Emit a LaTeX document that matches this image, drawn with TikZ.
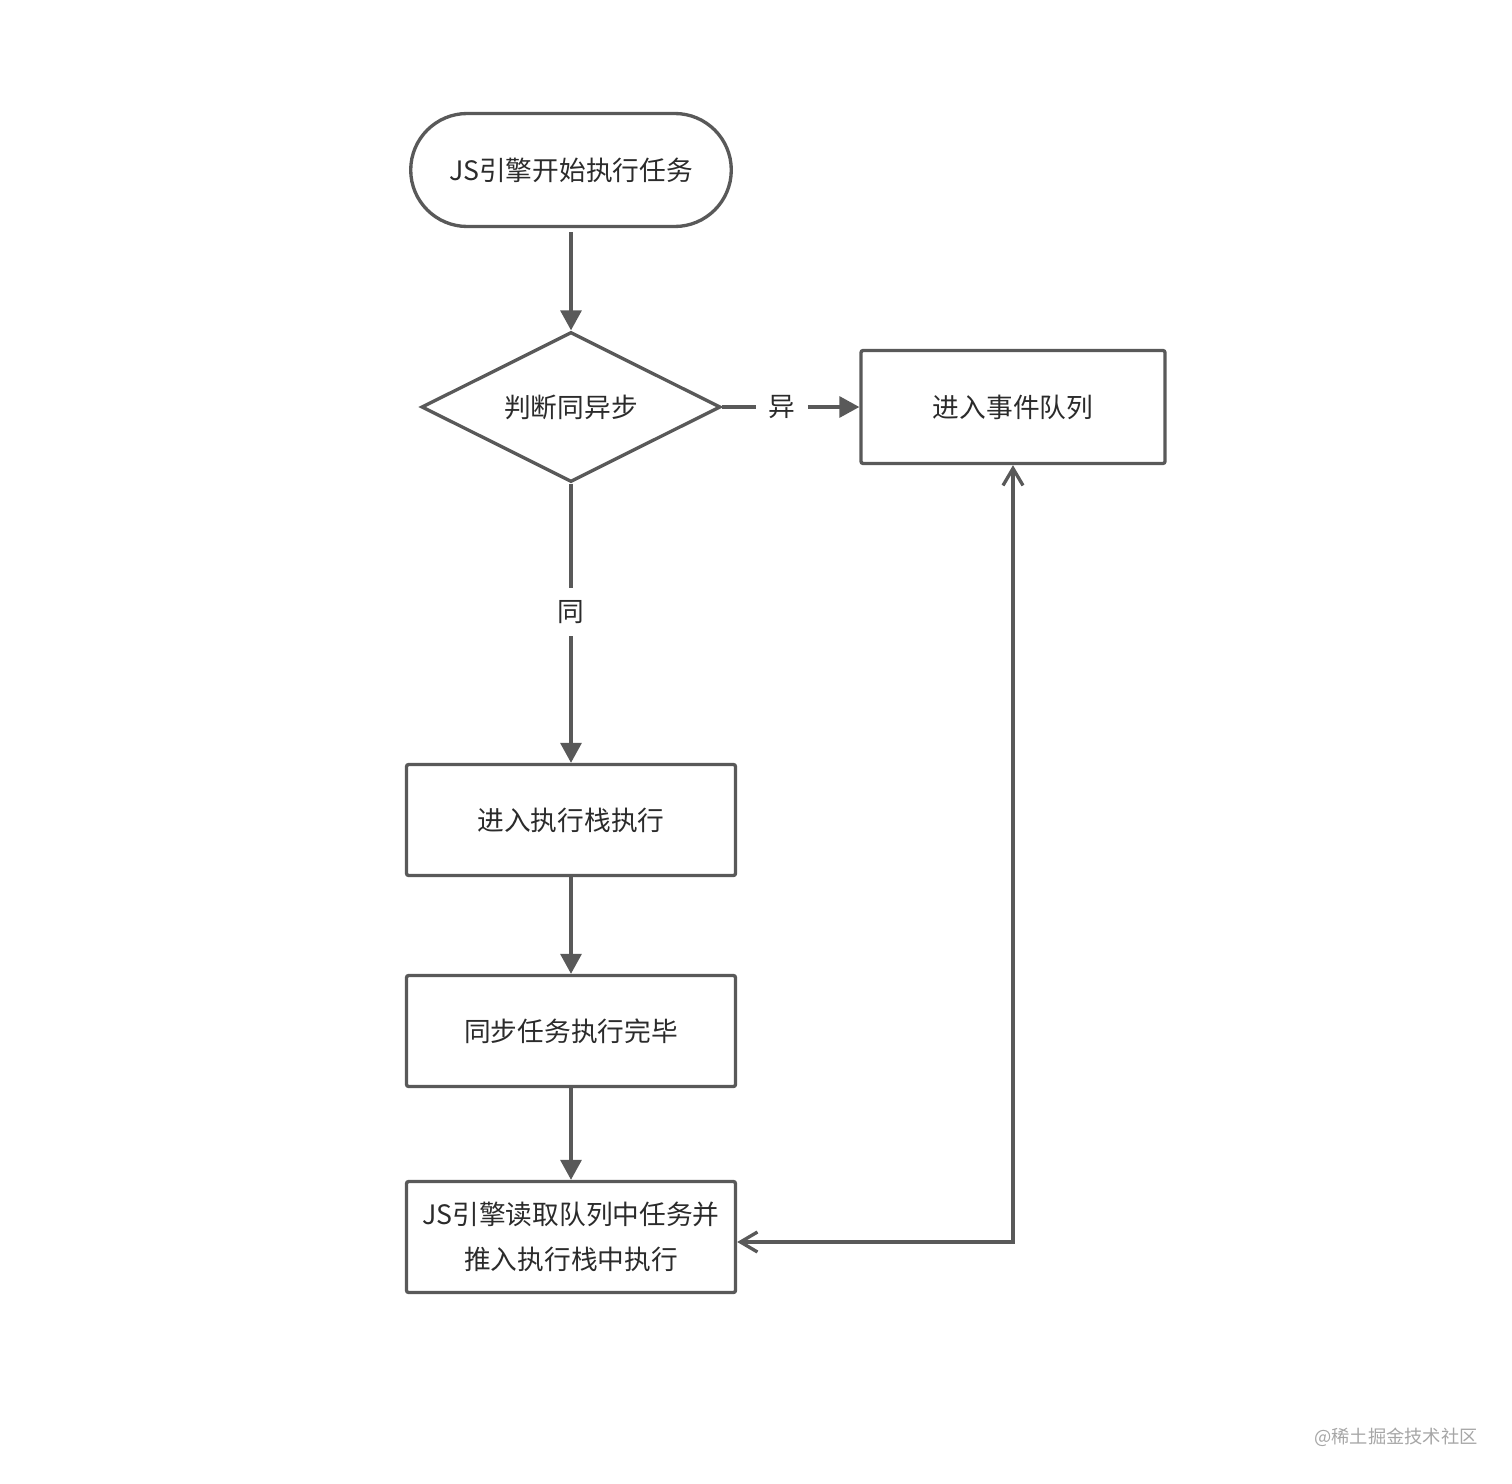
\documentclass[tikz,border=0pt]{standalone}
\usepackage{fontspec}
\setmainfont{Noto Sans CJK SC}
\usepackage{xcolor}
\usetikzlibrary{positioning,arrows.meta,shapes.geometric,shapes.misc,calc}
\definecolor{edgegray}{HTML}{595959}
\definecolor{textgray}{HTML}{2B2B2B}

\begin{document}
\begin{tikzpicture}[
    every node/.style={font=\fontsize{7.6}{12.8}\selectfont, text=textgray},
    box/.style={draw=edgegray, line width=0.95pt, rectangle, rounded corners=0.6pt,
      minimum width=3.29cm, minimum height=1.11cm, align=center},
    term/.style={draw=edgegray, line width=0.95pt, rounded rectangle,
      minimum width=3.44cm, minimum height=1.13cm},
    decide/.style={draw=edgegray, line width=0.95pt, diamond, aspect=2,
      minimum width=2.99cm, minimum height=1.5cm, inner sep=0pt},
    flow/.style={draw=edgegray, line width=0.95pt, -{Triangle[length=2mm,width=2.1mm]}},
    back/.style={draw=edgegray, line width=0.95pt,
      {Straight Barb[length=1.7mm,width=2mm]}-{Straight Barb[length=1.7mm,width=2mm]}}
  ]
  \useasboundingbox (0,0) rectangle (15.12,-14.84);

  % main column
  \node[term] (start) at (5.71,-1.70) {JS引擎开始执行任务};
  \node[decide] (judge) at (5.71,-4.07) {判断同异步};
  \node[box] (stack) at (5.71,-8.20) {进入执行栈执行};
  \node[box] (done) at (5.71,-10.31) {同步任务执行完毕};
  \node[box] (read) at (5.71,-12.37) {JS引擎读取队列中任务并\\推入执行栈中执行};

  % async side
  \node[box, minimum width=3.04cm, minimum height=1.13cm] (queue) at (10.13,-4.07) {进入事件队列};

  % edge labels
  \node (lblasync) at (7.82,-4.07) {异};
  \node (lblsync) at (5.71,-6.12) {同};

  % connectors
  \draw[flow] ([yshift=-0.04cm]start.south) -- (judge.north);
  \draw[draw=edgegray, line width=0.95pt] (judge.east) -- (lblasync.west);
  \draw[flow] (lblasync.east) -- (queue.west);
  \draw[draw=edgegray, line width=0.95pt] (judge.south) -- (lblsync.north);
  \draw[flow] (lblsync.south) -- (stack.north);
  \draw[flow] (stack.south) -- (done.north);
  \draw[flow] (done.south) -- (read.north);
  \draw[back] ([yshift=-0.05cm]read.east) -| (queue.south);

  % watermark
  \node[text=gray!70, font=\fontsize{5.2}{6}\selectfont] (mark) at (13.96,-14.37) {@稀土掘金技术社区};
\end{tikzpicture}
\end{document}
